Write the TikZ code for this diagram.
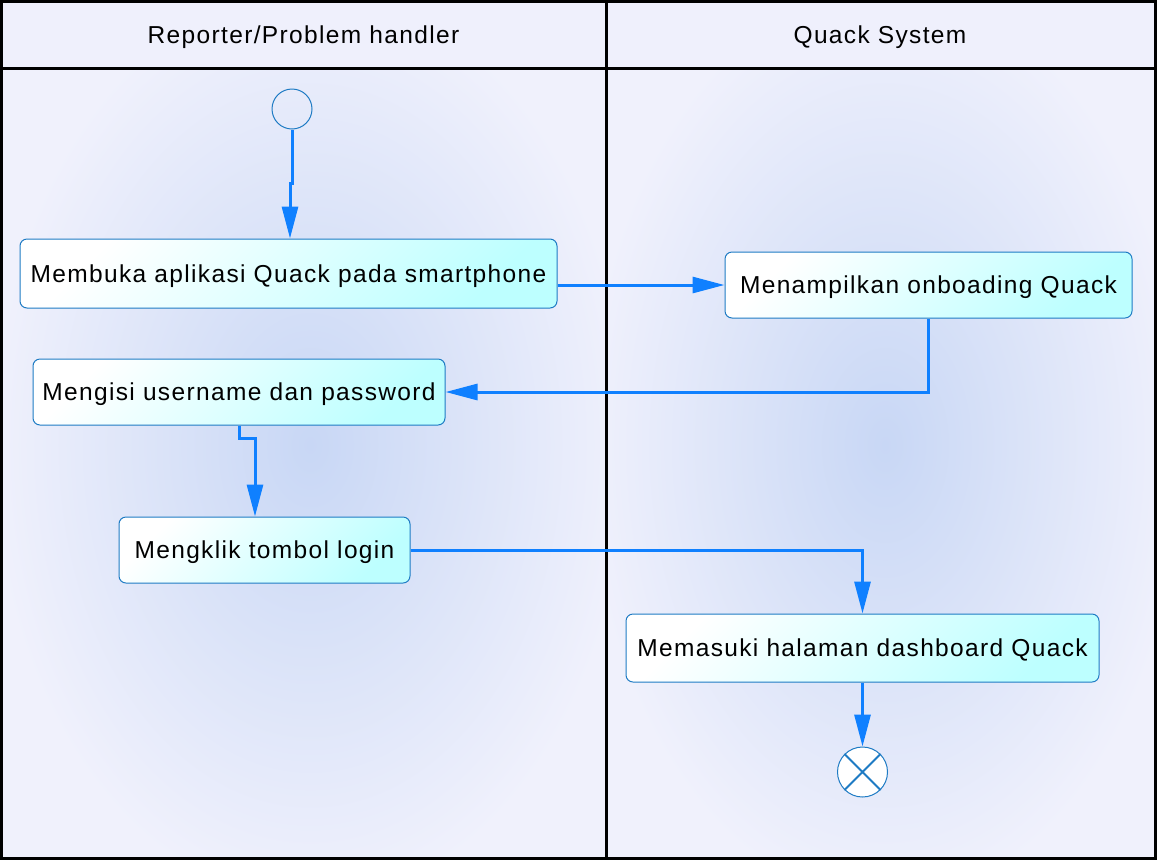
\documentclass[tikz,border=0pt]{standalone}
\usepackage{fontspec}
\setmainfont{Liberation Sans}[LetterSpace=5.5]
\usetikzlibrary{arrows.meta}
\definecolor{laneout}{HTML}{F0F1FC}
\definecolor{lanein}{HTML}{C8D7F5}
\definecolor{headc}{HTML}{EFF0FC}
\definecolor{flowc}{HTML}{0F80FF}
\definecolor{boxborder}{HTML}{1E7BC4}
\definecolor{boxcyan}{HTML}{BDFFFF}
\begin{document}
\begin{tikzpicture}[x=1pt,y=-1pt,
  txt/.style={font=\fontsize{24.5}{29}\selectfont, text height=17.5pt, text depth=0pt},
  act/.style={txt, draw=boxborder, line width=1pt, rounded corners=7pt,
    top color=white, bottom color=boxcyan, shading angle=45, inner sep=0pt},
  flow/.style={draw=flowc, line width=3pt, -{Triangle[length=32pt,width=16pt]}},
  frame/.style={draw=black, line width=3pt}]
\useasboundingbox (0,0) rectangle (1158,863);
\fill[white] (0,0) rectangle (1158,863);
\fill[laneout] (1.5,1.5) rectangle (1155,858.5);
\fill[headc] (1.5,1.5) rectangle (1155,68);
\begin{scope}
  \clip (1.5,68) rectangle (606,858.5);
  \shade[inner color=lanein, outer color=laneout] (310,445) ellipse (320 and 460);
\end{scope}
\begin{scope}
  \clip (606,68) rectangle (1155,858.5);
  \shade[inner color=lanein, outer color=laneout] (885,445) ellipse (300 and 460);
\end{scope}
\draw[frame] (1.5,1.5) rectangle (1155,858.5);
\draw[frame] (1.5,68) -- (1155,68);
\draw[frame] (606,1.5) -- (606,858.5);
\node[txt] (h1) at (303.5,35) {Reporter/Problem handler};
\node[txt] (h2) at (880,35) {Quack System};
% nodes
\node[circle, draw=boxborder, line width=1pt, minimum size=40pt, inner sep=0pt] (start) at (292,109) {};
\node[act, minimum width=537pt, minimum height=69pt] (b1) at (288.5,273.5) {Membuka aplikasi Quack pada smartphone};
\node[act, minimum width=407pt, minimum height=66pt] (b2) at (928.5,285) {Menampilkan onboading Quack};
\node[act, minimum width=412pt, minimum height=66pt] (b3) at (239,392) {Mengisi username dan password};
\node[act, minimum width=291pt, minimum height=66pt] (b4) at (264.5,550) {Mengklik tombol login};
\node[act, minimum width=473pt, minimum height=68pt] (b5) at (862.5,648) {Memasuki halaman dashboard Quack};
\node[circle, draw=boxborder, line width=1pt, fill=white, minimum size=50pt, inner sep=0pt] (end) at (862.5,772) {};
\draw[boxborder, line width=2pt] (end.45) -- (end.225) (end.135) -- (end.315);
% connectors
\coordinate (j1) at (290,183);
\coordinate (j2) at (255,438);
\draw[flow] (start.south) -- (start.south |- j1) -- (j1) -- (j1 |- b1.north);
\draw[flow] (b2.west -| b1.east) -- (b2.west);
\draw[flow] (b2.south) |- (b3.east);
\draw[flow] (b3.south) -- (b3.south |- j2) -- (j2) -- (j2 |- b4.north);
\draw[flow] (b4.east) -| (b5.north);
\draw[flow] (b5.south) -- (end.north);
\end{tikzpicture}
\end{document}
